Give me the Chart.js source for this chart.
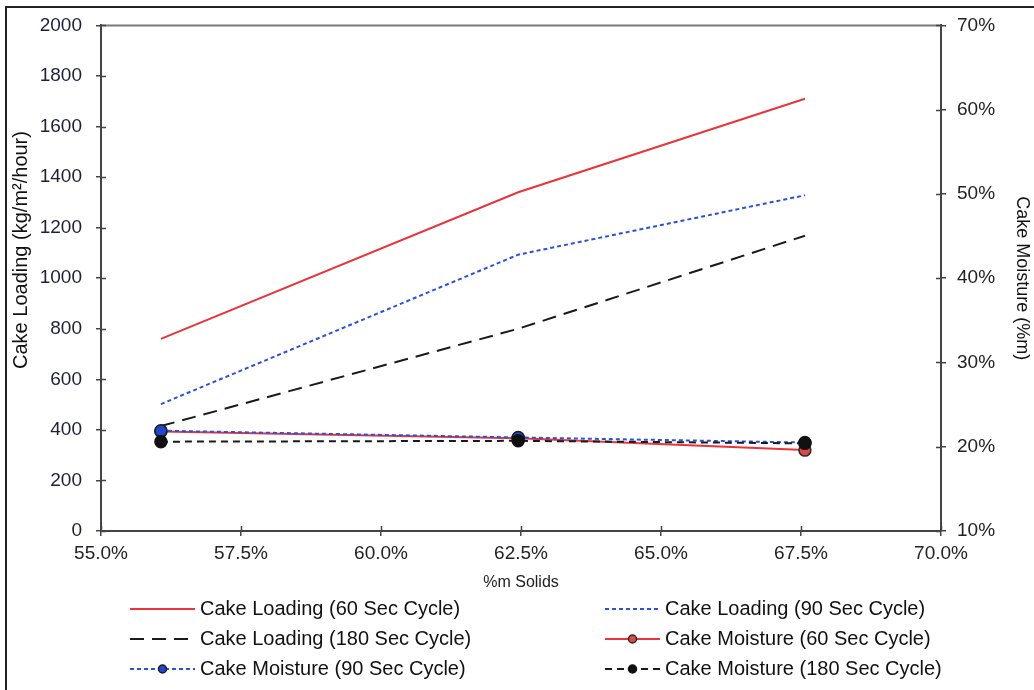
<!DOCTYPE html>
<html>
<head>
<meta charset="utf-8">
<script src="https://cdn.jsdelivr.net/npm/chart.js@4.4.1/dist/chart.umd.min.js"></script>
<style>
  html, body { margin: 0; padding: 0; background: #fff; }
  canvas { display: block; }
</style>
</head>
<body>
<canvas id="c" width="1034" height="690"></canvas>
<script>
// % solids of the feed slurry
const solids = [56.07, 62.45, 67.57];

// Cake loading, kg/m²/hour
const loading60 = [760, 1340, 1710];
const loading90 = [502, 1093, 1328];
const loading180 = [415, 800, 1168];

// Cake moisture, %m
const moisture60 = [21.8, 21.0, 19.6];
const moisture90 = [21.9, 21.1, 20.5];
const moisture180 = [20.6, 20.7, 20.4];

const xTicks = [55, 57.5, 60, 62.5, 65, 67.5, 70];

const FONT = 'Liberation Sans, Arial, sans-serif';
const RED = '#e8343a';
const BLUE = '#2a52d6';
const BLACK = '#1a1a1a';

const pts = arr => arr.map((v, i) => ({ x: solids[i], y: v }));

const datasets = [
  { label: 'Cake Loading (60 Sec Cycle)', data: pts(loading60), yAxisID: 'y',
    borderColor: RED, borderWidth: 2, pointRadius: 0, order: 5 },
  { label: 'Cake Loading (90 Sec Cycle)', data: pts(loading90), yAxisID: 'y',
    borderColor: BLUE, borderWidth: 2, borderDash: [4, 3], pointRadius: 0, order: 4 },
  { label: 'Cake Loading (180 Sec Cycle)', data: pts(loading180), yAxisID: 'y',
    borderColor: BLACK, borderWidth: 2, borderDash: [14, 8], pointRadius: 0, order: 3 },
  { label: 'Cake Moisture (60 Sec Cycle)', data: pts(moisture60), yAxisID: 'y2',
    borderColor: RED, borderWidth: 2, pointRadius: 6, pointBackgroundColor: '#e04848',
    pointBorderColor: '#2a2a2a', pointBorderWidth: 1.5, order: 2 },
  { label: 'Cake Moisture (90 Sec Cycle)', data: pts(moisture90), yAxisID: 'y2',
    borderColor: BLUE, borderWidth: 2, borderDash: [4, 3], pointRadius: 6,
    pointBackgroundColor: '#2446c8', pointBorderColor: '#1a1a2a', pointBorderWidth: 1.5, order: 1 },
  { label: 'Cake Moisture (180 Sec Cycle)', data: pts(moisture180), yAxisID: 'y2',
    borderColor: BLACK, borderWidth: 2, borderDash: [7, 5], pointRadius: 6,
    pointBackgroundColor: '#111', pointBorderColor: '#111', pointBorderWidth: 1.5, order: 0 }
];

// Frame, top plot border, crossing tick marks, axis titles and the two-column legend
const decorations = {
  id: 'decorations',
  afterDraw(chart) {
    const { ctx, chartArea: a, scales } = chart;
    ctx.save();
    // outer frame (top and left edges)
    ctx.strokeStyle = '#222';
    ctx.lineWidth = 2;
    ctx.beginPath();
    ctx.moveTo(6, 690); ctx.lineTo(6, 7); ctx.lineTo(1034, 7);
    ctx.stroke();
    // top edge of the plot box
    ctx.strokeStyle = '#7a7a7a';
    ctx.beginPath();
    ctx.moveTo(a.left, a.top); ctx.lineTo(a.right, a.top);
    ctx.stroke();
    // inner halves of tick marks
    ctx.strokeStyle = '#444';
    ctx.lineWidth = 1.5;
    ctx.beginPath();
    scales.y.ticks.forEach(t => {
      const yy = Math.round(scales.y.getPixelForValue(t.value)) + 0.5;
      ctx.moveTo(a.left, yy); ctx.lineTo(a.left + 5, yy);
    });
    scales.y2.ticks.forEach(t => {
      const yy = Math.round(scales.y2.getPixelForValue(t.value)) + 0.5;
      ctx.moveTo(a.right, yy); ctx.lineTo(a.right - 5, yy);
    });
    scales.x.ticks.forEach(t => {
      const xx = Math.round(scales.x.getPixelForValue(t.value)) + 0.5;
      ctx.moveTo(xx, a.bottom); ctx.lineTo(xx, a.bottom - 5);
    });
    ctx.stroke();

    // left axis title
    ctx.fillStyle = '#111';
    ctx.textAlign = 'center';
    ctx.textBaseline = 'middle';
    ctx.font = '20px ' + FONT;
    ctx.save();
    ctx.translate(21, 250);
    ctx.rotate(-Math.PI / 2);
    ctx.fillText('Cake Loading (kg/m²/hour)', 0, 0);
    ctx.restore();

    // legend
    const cols = [{ x0: 130, x1: 195 }, { x0: 605, x1: 660 }];
    const rows = [609, 639, 669];
    ctx.font = '20px ' + FONT;
    ctx.textBaseline = 'middle';
    ctx.textAlign = 'left';
    chart.data.datasets.forEach((ds, i) => {
      const c = cols[i % 2];
      const yy = rows[Math.floor(i / 2)];
      ctx.strokeStyle = ds.borderColor;
      ctx.lineWidth = 2;
      ctx.setLineDash(ds.borderDash || []);
      ctx.beginPath();
      ctx.moveTo(c.x0, yy); ctx.lineTo(c.x1, yy);
      ctx.stroke();
      ctx.setLineDash([]);
      if (ds.pointRadius) {
        ctx.fillStyle = ds.pointBackgroundColor;
        ctx.strokeStyle = ds.pointBorderColor;
        ctx.lineWidth = 1.5;
        ctx.beginPath();
        ctx.arc((c.x0 + c.x1) / 2, yy, 4, 0, Math.PI * 2);
        ctx.fill(); ctx.stroke();
      }
      ctx.fillStyle = '#111';
      ctx.fillText(ds.label, c.x1 + 5, yy);
    });
    ctx.restore();
  }
};

new Chart(document.getElementById('c'), {
  type: 'line',
  data: { datasets },
  options: {
    responsive: false,
    devicePixelRatio: 1,
    animation: false,
    layout: { padding: { left: 0, right: 0, top: 25, bottom: 0 } },
    plugins: { legend: { display: false }, tooltip: { enabled: false } },
    elements: { line: { tension: 0 } },
    scales: {
      x: {
        type: 'linear', min: 55, max: 70,
        afterBuildTicks: s => { s.ticks = xTicks.map(v => ({ value: v })); },
        afterFit: s => { s.height = 159; },
        grid: { drawOnChartArea: false, drawTicks: true, tickLength: 5, color: '#444', lineWidth: 1.5 },
        border: { display: true, color: '#444', width: 2 },
        ticks: { callback: v => v.toFixed(1) + '%', font: { family: FONT, size: 19 }, color: '#222', padding: 6, maxRotation: 0 },
        title: { display: true, text: '%m Solids', font: { family: FONT, size: 16 }, color: '#222', padding: { top: 0, bottom: 98 } }
      },
      y: {
        type: 'linear', position: 'left', min: 0, max: 2000,
        ticks: { stepSize: 200, callback: v => String(v), font: { family: FONT, size: 19 }, color: '#1e1e36', padding: 14 },
        afterFit: s => { s.width = 101; },
        grid: { drawOnChartArea: false, drawTicks: true, tickLength: 5, color: '#444', lineWidth: 1.5 },
        border: { display: true, color: '#444', width: 2 }
      },
      y2: {
        type: 'linear', position: 'right', min: 10, max: 70,
        ticks: { stepSize: 10, callback: v => v + '%', font: { family: FONT, size: 19 }, color: '#222', padding: 11 },
        afterFit: s => { s.width = 93; },
        grid: { drawOnChartArea: false, drawTicks: true, tickLength: 5, color: '#444', lineWidth: 1.5 },
        border: { display: true, color: '#444', width: 2 },
        title: { display: true, text: 'Cake Moisture (%m)', font: { family: FONT, size: 18 }, color: '#111', padding: { top: 1, bottom: 0 } }
      }
    }
  },
  plugins: [decorations]
});
</script>
</body>
</html>
